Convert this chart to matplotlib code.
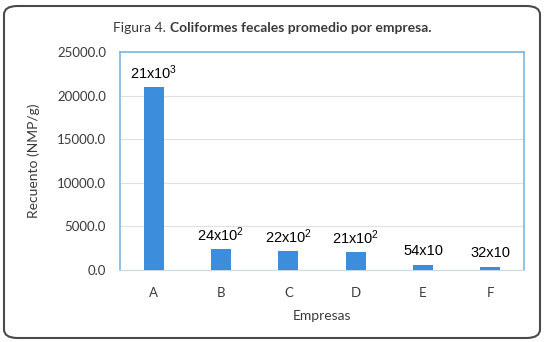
import matplotlib

matplotlib.use("Agg")

import matplotlib.pyplot as plt  # noqa: E402
from matplotlib.patches import FancyBboxPatch  # noqa: E402

# Data
empresas = ["A", "B", "C", "D", "E", "F"]
recuento = [21000, 2400, 2200, 2100, 540, 320]
etiquetas = ["21x10$^3$", "24x10$^2$", "22x10$^2$", "21x10$^2$", "54x10", "32x10"]
y_ticks = [0, 5000, 10000, 15000, 20000, 25000]

BAR_COLOR = "#3C8EDC"
FRAME_COLOR = "#7DB8E0"
TEXT_GRAY = "#3A3A3A"

plt.rcParams["mathtext.fontset"] = "custom"
plt.rcParams["mathtext.rm"] = "Liberation Sans"
plt.rcParams["mathtext.it"] = "Liberation Sans"

fig = plt.figure(figsize=(5.47, 3.42), dpi=100)
ax = fig.add_axes([120 / 547, 1 - 270 / 342, 404 / 547, (270 - 52) / 342])

x = list(range(len(empresas)))
ax.bar(x, recuento, width=0.3, color=BAR_COLOR, zorder=3)

ax.set_xlim(-0.5, len(empresas) - 0.5)
ax.set_ylim(0, 25000)
ax.set_yticks(y_ticks)
ax.set_yticklabels([f"{v:.1f}" for v in y_ticks], fontsize=9.5, color=TEXT_GRAY, family="Lato")
ax.set_xticks(x)
ax.set_xticklabels(empresas, fontsize=9.5, color=TEXT_GRAY, family="Lato")
ax.tick_params(length=0, pad=12)
ax.tick_params(axis="y", pad=10)

ax.grid(axis="y", color="#E0E0E0", linewidth=0.8, zorder=0)

for side in ["left", "right", "top"]:
    ax.spines[side].set_color(FRAME_COLOR)
    ax.spines[side].set_linewidth(1.2)
ax.spines["bottom"].set_color("#C8D8E4")
ax.spines["bottom"].set_linewidth(0.8)

# Value labels over the bars
for xi, val, txt in zip(x, recuento, etiquetas):
    ax.annotate(txt, (xi, val), xytext=(0, 10), textcoords="offset points",
                ha="center", va="center", fontsize=10.5, color="black",
                family="Liberation Sans")

ax.set_xlabel("Empresas", fontsize=10, color=TEXT_GRAY, family="Lato", labelpad=8)
ax.set_ylabel("Recuento (NMP/g)", fontsize=10, color=TEXT_GRAY, family="Lato", labelpad=12)

# Title: normal prefix + bold caption chained right after it
prefix = fig.text(113 / 547, 1 - 28 / 342, "Figura 4.", fontsize=10, color=TEXT_GRAY,
                  family="Lato", va="center", ha="left")
fig.add_artist(matplotlib.text.Annotation(
    "Coliformes fecales promedio por empresa.", xy=(1, 0.5), xycoords=prefix,
    xytext=(3, 0), textcoords="offset points", fontsize=10, color=TEXT_GRAY,
    family="Lato", weight="bold", va="center", ha="left"))

# Rounded outer border
border = FancyBboxPatch((4 / 547, 4 / 342), 536 / 547, 332 / 342,
                        boxstyle="round,pad=0,rounding_size=0.025",
                        transform=fig.transFigure, fill=False,
                        edgecolor="#4A4A4A", linewidth=1.5)
fig.patches.append(border)

fig.savefig("out.png", dpi=100)
